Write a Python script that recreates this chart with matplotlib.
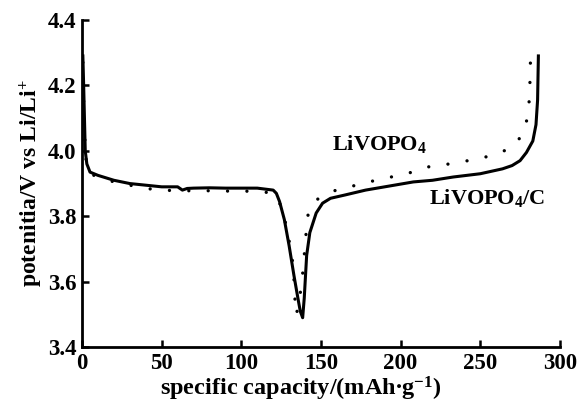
import matplotlib.pyplot as plt

plt.rcParams['font.family'] = 'Liberation Serif'
plt.rcParams['font.weight'] = 'bold'
plt.rcParams['axes.labelweight'] = 'bold'
plt.rcParams['mathtext.fontset'] = 'custom'
plt.rcParams['mathtext.rm'] = 'Liberation Serif:bold'
plt.rcParams['mathtext.default'] = 'rm'

# LiVOPO4/C (solid)
c_dis_x = [0.5, 1, 1.5, 2, 3, 5, 10, 20, 30, 40, 50, 60, 63, 66, 70, 80, 90, 100, 110,
           120, 122, 124, 127, 130, 133, 135.5, 137, 138.5]
c_dis_y = [4.29, 4.2, 4.1, 4.0, 3.96, 3.935, 3.925, 3.91, 3.9, 3.895, 3.89, 3.89, 3.88, 3.885,
           3.886, 3.887, 3.886, 3.886, 3.886, 3.88, 3.87, 3.845, 3.79, 3.71, 3.62, 3.55, 3.51, 3.49]
c_chg_x = [138.5, 139.5, 141, 143, 147, 151, 156, 165, 178, 190, 208, 220, 233, 250, 264,
           270, 275, 279, 283, 285, 286, 286.5]
c_chg_y = [3.49, 3.55, 3.68, 3.75, 3.81, 3.84, 3.855, 3.865, 3.88, 3.89, 3.905, 3.91, 3.92,
           3.93, 3.945, 3.955, 3.97, 3.995, 4.03, 4.08, 4.155, 4.29]

# LiVOPO4 (dotted)
p_dis_x = [0.5, 1, 2, 3, 5, 10, 20, 30, 40, 50, 60, 70, 80, 90, 100, 110, 118, 122, 126,
           129, 131, 132.5, 133.5, 134]
p_dis_y = [4.27, 4.15, 4.0, 3.95, 3.93, 3.92, 3.905, 3.895, 3.885, 3.88, 3.878, 3.878, 3.878,
           3.877, 3.877, 3.876, 3.872, 3.86, 3.82, 3.75, 3.70, 3.65, 3.57, 3.50]
p_chg_x = [134.5, 136, 138, 139, 140.5, 142, 146, 150, 156, 168, 180, 192, 204, 216, 228,
           239, 250, 258, 265, 271, 275, 278, 280, 281, 281.6]
p_chg_y = [3.50, 3.53, 3.60, 3.65, 3.74, 3.81, 3.845, 3.86, 3.875, 3.89, 3.905, 3.918, 3.93,
           3.95, 3.958, 3.967, 3.977, 3.987, 4.0, 4.018, 4.04, 4.07, 4.11, 4.17, 4.29]

fig = plt.figure(figsize=(5.82, 4.07), dpi=100)
ax = fig.add_axes([0.141, 0.147, 0.821, 0.804])

ax.plot(c_dis_x + c_chg_x, c_dis_y + c_chg_y, color='black', lw=2.2)
ax.plot(p_dis_x + p_chg_x, p_dis_y + p_chg_y, color='black', lw=2.4,
        linestyle=(0, (0.01, 5.8)), dash_capstyle='round')

ax.text(187, 4.02, 'LiVOPO$_4$', fontsize=16, fontweight='bold', ha='center', va='center')
ax.text(218, 3.855, 'LiVOPO$_4$/C', fontsize=16, fontweight='bold', ha='left', va='center')

ax.set_xlim(0, 300)
ax.set_ylim(3.4, 4.4)
ax.set_xticks([0, 50, 100, 150, 200, 250, 300])
ax.set_yticks([3.4, 3.6, 3.8, 4.0, 4.2, 4.4])
ax.set_yticklabels(['3.4', '3.6', '3.8', '4.0', '4.2', '4.4'])
for lab in ax.get_xticklabels() + ax.get_yticklabels():
    lab.set_fontweight('bold')
ax.spines['top'].set_visible(False)
ax.spines['right'].set_visible(False)
ax.spines['left'].set_linewidth(2)
ax.spines['bottom'].set_linewidth(2)
ax.tick_params(direction='in', length=5, width=1.8, labelsize=16.5, pad=4)
ax.set_xlabel('specific capacity/(mAh$\\bullet$g$^{-1}$)', fontsize=17.5, fontweight='bold',
              labelpad=0)
ax.xaxis.set_label_coords(0.458, -0.085)
ax.set_ylabel('potenitia/V vs Li/Li$^{+}$', fontsize=17, fontweight='bold', labelpad=2)

fig.savefig('out.png', dpi=100)
